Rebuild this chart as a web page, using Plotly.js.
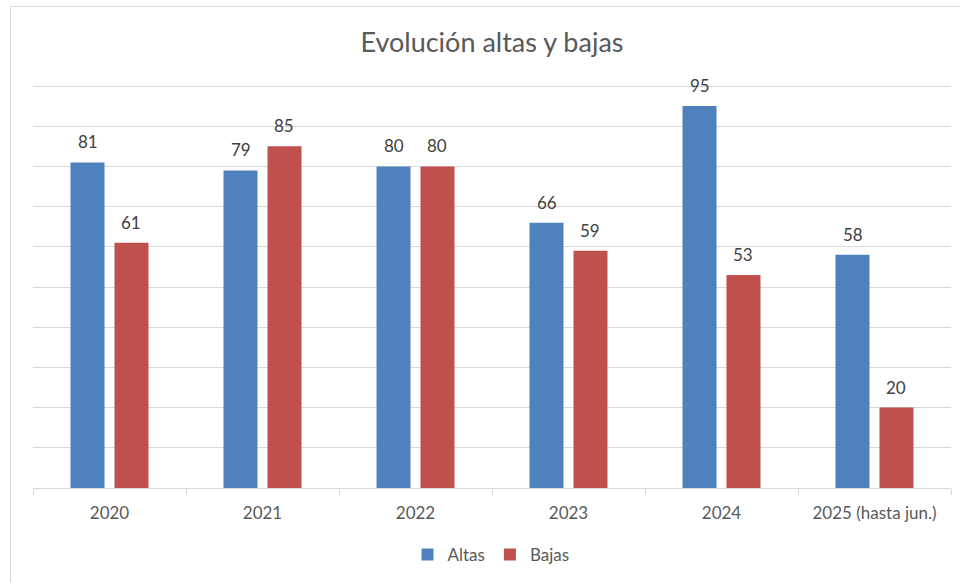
<!DOCTYPE html>
<html>
<head>
<meta charset="utf-8">
<script src="https://cdn.plot.ly/plotly-3.0.1.min.js"></script>
<style>html,body{margin:0;padding:0;background:#fff;} #chart{width:960px;height:583px;}</style>
</head>
<body>
<div id="chart"></div>
<script>
const categories = ["2020", "2021", "2022", "2023", "2024", "2025 (hasta jun.)"];
const altas = [81, 79, 80, 66, 95, 58];
const bajas = [61, 85, 80, 59, 53, 20];
const seriesNames = ["Altas", "Bajas"];

const FONT = "Lato, 'Open Sans', sans-serif";
const colors = ["#4F81BD", "#C0504D"];
const series = [altas, bajas];
const traces = series.map((vals, i) => ({
  type: "bar", name: seriesNames[i], x: categories, y: vals, marker: {color: colors[i]}
}));

const L = 33, R = 9, T = 82, B = 95;
const pw = 960 - L - R, ph = 583 - T - B;
const catW = pw / categories.length;
const slot = catW * (1 - 0.425) / 2;

const annotations = [];
series.forEach((vals, i) => {
  vals.forEach((v, j) => {
    annotations.push({x: j, y: v, xref: "x", yref: "y", text: String(v),
      showarrow: false, yanchor: "bottom", yshift: 8, xshift: (i - 0.5) * slot,
      font: {family: FONT, size: 17, color: "#404040"}});
  });
});

const layout = {
  width: 960, height: 583,
  margin: {l: L, r: R, t: T, b: B},
  paper_bgcolor: "#fff", plot_bgcolor: "#fff",
  font: {family: FONT, color: "#595959"},
  title: {text: "Evolución altas y bajas", font: {family: FONT, size: 27, color: "#595959"},
          x: 492/960, xanchor: "center", xref: "container", y: 1 - 43/583, yanchor: "middle", yref: "container"},
  barmode: "group", bargap: 0.425, bargroupgap: 0.227,
  xaxis: {type: "category", range: [-0.5, categories.length - 0.5], showline: true, linecolor: "#d9d9d9", linewidth: 1,
          ticks: "outside", tickson: "boundaries", ticklen: 6, tickcolor: "#d9d9d9",
          ticklabelstandoff: 10, tickangle: 0,
          tickfont: {family: FONT, size: 17, color: "#595959"}, showgrid: false, fixedrange: true},
  yaxis: {range: [0, 101], dtick: 10, showgrid: true, gridcolor: "#d9d9d9", gridwidth: 1,
          showticklabels: false, zeroline: false, ticks: "", fixedrange: true},
  legend: {orientation: "h", x: (491 - L)/pw, xanchor: "center", y: (488 - 555)/ph, yanchor: "middle",
           font: {family: FONT, size: 17, color: "#595959"}, itemwidth: 30, traceorder: "normal"},
  annotations: annotations,
  shapes: [{type: "rect", xref: "paper", yref: "paper", layer: "below",
            x0: (10.5 - L)/pw, x1: (975 - L)/pw, y0: (488 - 600)/ph, y1: (488 - 6.5)/ph,
            line: {color: "#d9d9d9", width: 1}, fillcolor: "rgba(0,0,0,0)"}]
};
Plotly.newPlot("chart", traces, layout, {displayModeBar: false, staticPlot: true});
</script>
</body>
</html>
